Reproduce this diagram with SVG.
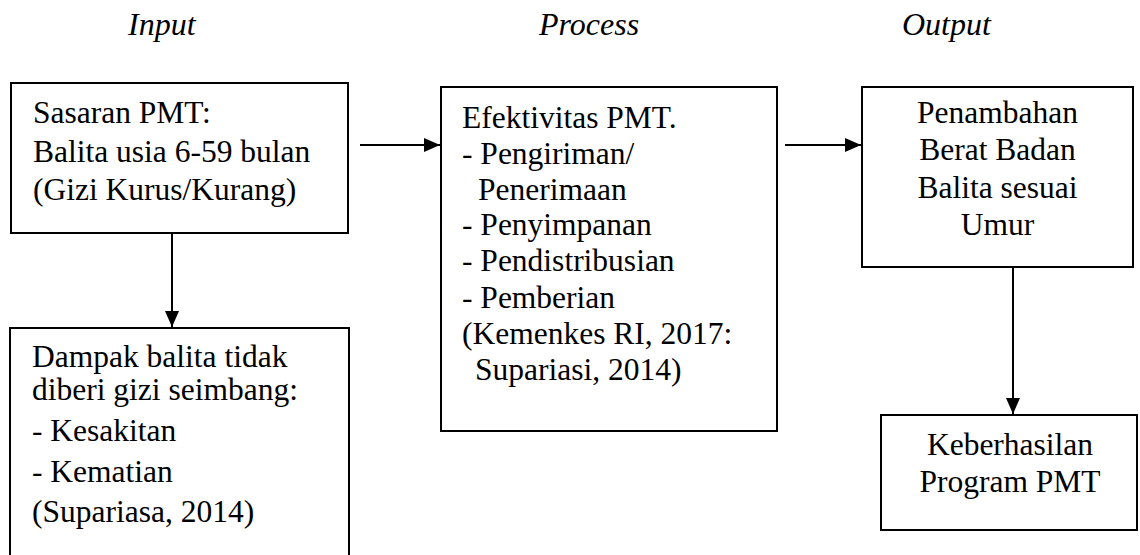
<svg xmlns="http://www.w3.org/2000/svg" width="1140" height="555" viewBox="0 0 1140 555">
<style>
.box{fill:#fff;stroke:#000;stroke-width:2}
.t{font-size:31.5px;fill:#000}
.c{text-anchor:middle}
.h{font-size:32px;font-style:italic;fill:#000}
.con{stroke:#000;stroke-width:2;fill:none;marker-end:url(#ah)}
</style>
<defs>
<marker id="ah" markerUnits="userSpaceOnUse" markerWidth="16" markerHeight="14" refX="16" refY="7" orient="auto">
<path d="M0,0 L16,7 L0,14 Z" fill="#000"/>
</marker>
</defs>
<g font-family="Liberation Serif, serif">
<g id="headers">
<text class="h" x="128" y="35">Input</text>
<text class="h" x="539" y="35">Process</text>
<text class="h" x="902" y="35">Output</text>
</g>
<g id="connectors">
<line class="con" x1="360" y1="145" x2="440" y2="145"/>
<line class="con" x1="785" y1="145" x2="861" y2="145"/>
<line class="con" x1="172" y1="233" x2="172" y2="327"/>
<line class="con" x1="1013" y1="267" x2="1013" y2="414"/>
</g>
<g id="sasaran">
<rect class="box" x="11" y="83" width="337" height="150"/>
<text class="t" x="33" y="123">Sasaran PMT:</text>
<text class="t" x="33" y="162">Balita usia 6-59 bulan</text>
<text class="t" x="33" y="200">(Gizi Kurus/Kurang)</text>
</g>
<g id="dampak">
<rect class="box" x="10" y="328" width="339" height="240"/>
<text class="t" x="32" y="367">Dampak balita tidak</text>
<text class="t" x="32" y="400">diberi gizi seimbang:</text>
<text class="t" x="32" y="441">- Kesakitan</text>
<text class="t" x="32" y="482">- Kematian</text>
<text class="t" x="32" y="522">(Supariasa, 2014)</text>
</g>
<g id="efektivitas">
<rect class="box" x="441" y="87" width="336" height="344"/>
<text class="t" x="462" y="128">Efektivitas PMT.</text>
<text class="t" x="462" y="164">- Pengiriman/</text>
<text class="t" x="478" y="200">Penerimaan</text>
<text class="t" x="462" y="235">- Penyimpanan</text>
<text class="t" x="462" y="271">- Pendistribusian</text>
<text class="t" x="462" y="308">- Pemberian</text>
<text class="t" x="462" y="344">(Kemenkes RI, 2017:</text>
<text class="t" x="475" y="380">Supariasi, 2014)</text>
</g>
<g id="penambahan">
<rect class="box" x="862" y="87" width="271" height="180"/>
<text class="t c" x="997.5" y="123">Penambahan</text>
<text class="t c" x="997.5" y="160">Berat Badan</text>
<text class="t c" x="997.5" y="198">Balita sesuai</text>
<text class="t c" x="997.5" y="235">Umur</text>
</g>
<g id="keberhasilan">
<rect class="box" x="881" y="415" width="256" height="115"/>
<text class="t c" x="1010" y="455">Keberhasilan</text>
<text class="t c" x="1010" y="492">Program PMT</text>
</g>
</g>
</svg>
